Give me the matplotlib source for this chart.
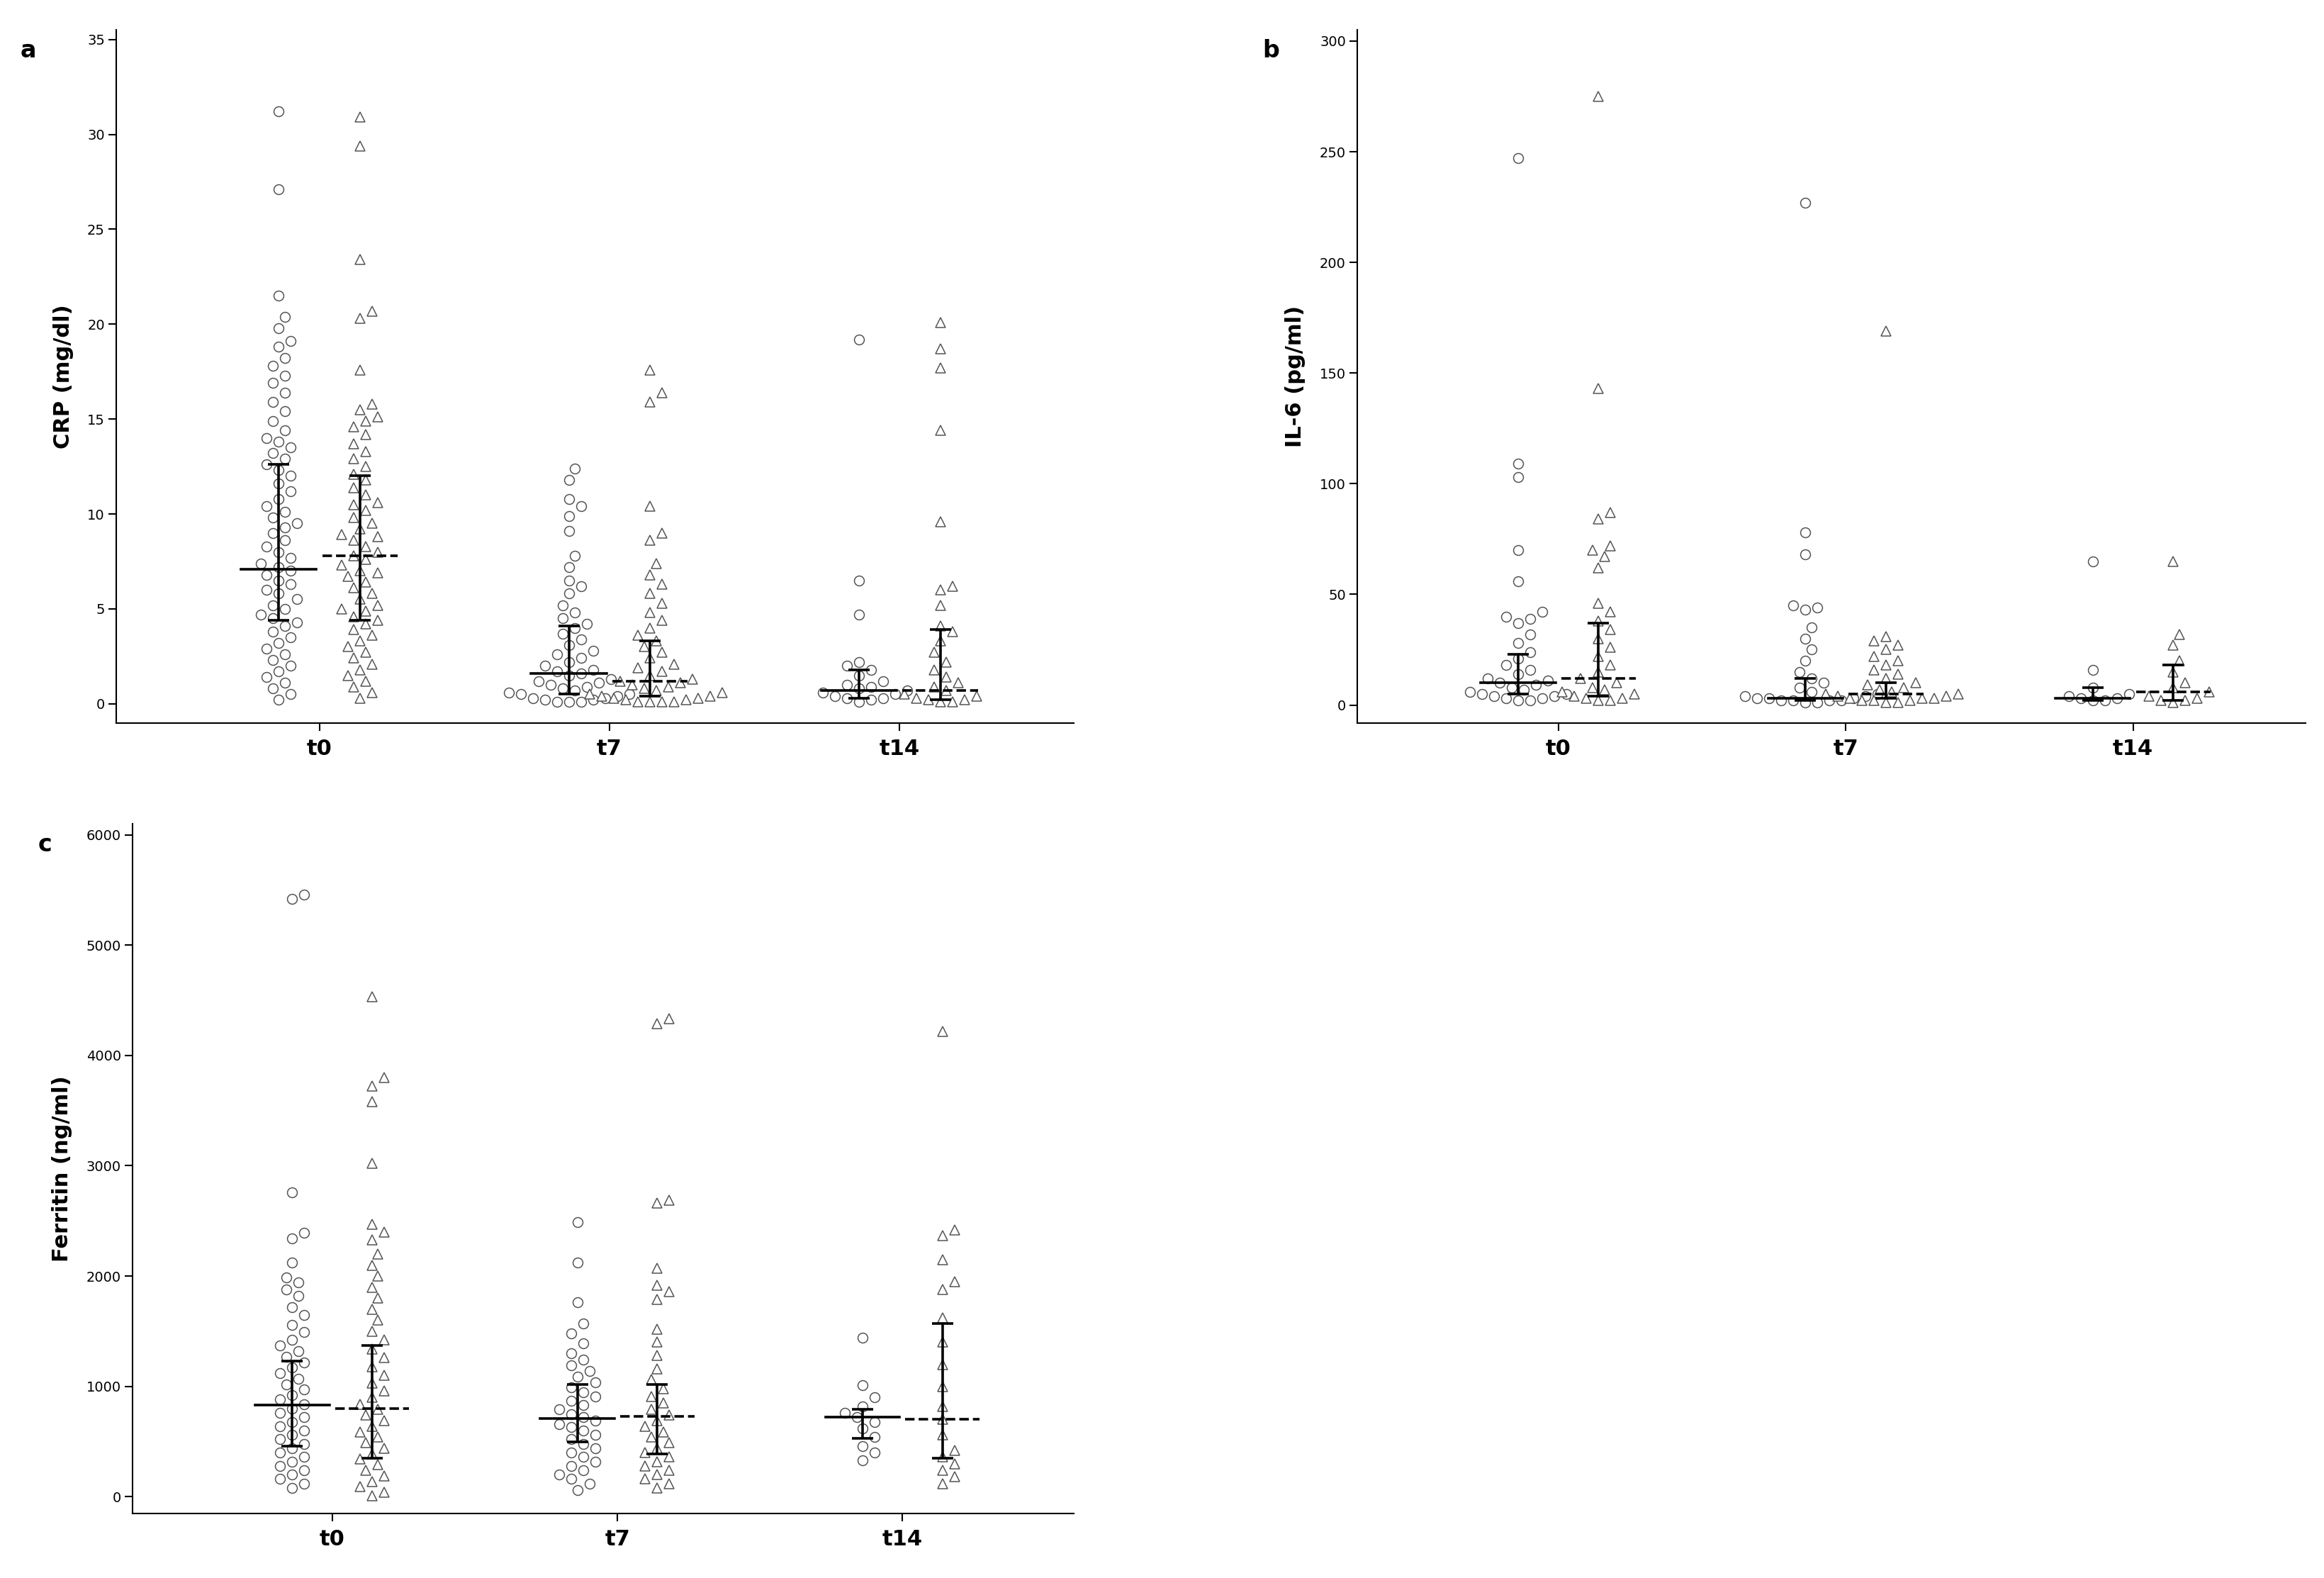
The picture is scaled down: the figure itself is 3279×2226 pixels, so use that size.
import numpy as np
import matplotlib
matplotlib.use('Agg')
import matplotlib.pyplot as plt

groups = ['t0', 't7', 't14']

# CRP (mg/dl)
crp_circ = [
    [31.2, 27.1, 21.5, 20.4, 19.8, 19.1, 18.8, 18.2, 17.8, 17.3, 16.9, 16.4, 15.9, 15.4, 14.9, 14.4, 14.0, 13.8,
     13.5, 13.2, 12.9, 12.6, 12.3, 12.0, 11.6, 11.2, 10.8, 10.4, 10.1, 9.8, 9.5, 9.3, 9.0, 8.6, 8.3, 8.0, 7.7, 7.4,
     7.2, 7.0, 6.8, 6.5, 6.3, 6.0, 5.8, 5.5, 5.2, 5.0, 4.7, 4.5, 4.3, 4.1, 3.8, 3.5, 3.2, 2.9, 2.6, 2.3, 2.0, 1.7,
     1.4, 1.1, 0.8, 0.5, 0.2],
    [12.4, 11.8, 10.8, 10.4, 9.9, 9.1, 7.8, 7.2, 6.5, 6.2, 5.8, 5.2, 4.8, 4.5, 4.2, 4.0, 3.7, 3.4, 3.1, 2.8, 2.6,
     2.4, 2.2, 2.0, 1.8, 1.7, 1.6, 1.5, 1.3, 1.2, 1.1, 1.0, 0.9, 0.8, 0.7, 0.6, 0.5, 0.5, 0.4, 0.3, 0.3, 0.2, 0.2,
     0.1, 0.1, 0.1],
    [19.2, 6.5, 4.7, 2.2, 2.0, 1.8, 1.5, 1.2, 1.0, 0.9, 0.8, 0.7, 0.6, 0.5, 0.4, 0.3, 0.3, 0.2, 0.1],
]
crp_tri = [
    [30.9, 29.4, 23.4, 20.7, 20.3, 17.6, 15.8, 15.5, 15.1, 14.6, 14.2, 13.7, 13.3, 12.9, 12.5, 12.1, 11.8, 11.4,
     11.0, 10.6, 10.2, 9.8, 9.5, 9.2, 8.9, 8.6, 8.3, 8.0, 7.8, 7.6, 7.3, 7.0, 6.7, 6.4, 6.1, 5.8, 5.5, 5.2, 4.9,
     4.6, 4.4, 4.2, 3.9, 3.6, 3.3, 3.0, 2.7, 2.4, 2.1, 1.8, 1.5, 1.2, 0.9, 0.6, 0.3, 14.9, 10.5, 8.8, 6.9, 5.0],
    [17.6, 16.4, 15.9, 10.4, 9.0, 8.6, 7.4, 6.8, 6.3, 5.8, 5.3, 4.8, 4.4, 4.0, 3.6, 3.3, 3.0, 2.7, 2.4, 2.1, 1.9,
     1.7, 1.5, 1.3, 1.2, 1.1, 1.0, 0.9, 0.8, 0.7, 0.6, 0.5, 0.4, 0.4, 0.3, 0.3, 0.2, 0.2, 0.1, 0.1, 0.1, 0.1],
    [20.1, 18.7, 17.7, 14.4, 9.6, 6.2, 6.0, 5.2, 4.1, 3.8, 3.3, 2.7, 2.2, 1.8, 1.4, 1.1, 0.9, 0.7, 0.5, 0.4, 0.3,
     0.2, 0.2, 0.1, 0.1],
]
crp_stats_c = [(7.1, 4.4, 12.6), (1.6, 0.5, 4.1), (0.7, 0.3, 1.8)]
crp_stats_t = [(7.8, 4.4, 12.0), (1.2, 0.4, 3.3), (0.7, 0.2, 3.9)]

# IL-6 (pg/ml)
il6_circ = [
    [247, 109, 103, 70, 56, 42, 40, 39, 37, 32, 28, 24, 21, 18, 16, 14, 12, 11, 10, 9, 8, 7, 6, 5, 5, 4, 4, 3, 3, 2, 2],
    [227, 78, 68, 45, 44, 43, 35, 30, 25, 20, 15, 12, 10, 8, 6, 5, 4, 4, 3, 3, 3, 2, 2, 2, 2, 1, 1],
    [65, 16, 8, 5, 4, 3, 3, 2, 2],
]
il6_tri = [
    [275, 143, 87, 84, 72, 70, 67, 62, 46, 42, 38, 34, 30, 26, 22, 18, 15, 12, 10, 8, 7, 6, 5, 4, 3, 3, 2, 2],
    [169, 31, 29, 27, 25, 22, 20, 18, 16, 14, 12, 10, 9, 8, 7, 6, 5, 5, 4, 4, 3, 3, 3, 2, 2, 2, 1, 1],
    [65, 32, 27, 20, 15, 10, 8, 6, 4, 3, 2, 2, 1],
]
il6_stats_c = [(10, 5, 23), (3, 2, 12), (3, 2, 8)]
il6_stats_t = [(12, 4, 37), (5, 3, 10), (6, 2, 18)]

# Ferritin (ng/ml)
fer_circ = [
    [5420, 5460, 2760, 2390, 2340, 2120, 1990, 1940, 1880, 1820, 1720, 1650, 1560, 1490, 1420, 1370, 1320, 1270,
     1220, 1170, 1120, 1070, 1020, 970, 920, 880, 840, 800, 760, 720, 680, 640, 600, 560, 520, 480, 440, 400, 360,
     320, 280, 240, 200, 160, 120, 80],
    [2490, 2120, 1760, 1570, 1480, 1390, 1300, 1240, 1190, 1140, 1090, 1040, 990, 950, 910, 870, 830, 790, 750,
     720, 690, 660, 630, 600, 560, 520, 480, 440, 400, 360, 320, 280, 240, 200, 160, 120, 60],
    [1440, 1010, 900, 820, 760, 720, 680, 620, 540, 460, 400, 330],
]
fer_tri = [
    [4530, 3800, 3720, 3580, 3020, 2470, 2400, 2330, 2200, 2100, 2000, 1900, 1800, 1700, 1600, 1500, 1420, 1340,
     1260, 1180, 1100, 1030, 960, 900, 840, 790, 740, 690, 640, 590, 540, 490, 440, 390, 340, 290, 240, 190, 140,
     90, 40, 10],
    [4330, 4290, 2690, 2660, 2070, 1920, 1860, 1790, 1520, 1400, 1280, 1160, 1060, 980, 910, 850, 790, 740, 690,
     640, 590, 540, 490, 440, 400, 360, 320, 280, 240, 200, 160, 120, 80],
    [4220, 2420, 2370, 2150, 1950, 1880, 1620, 1400, 1200, 1000, 820, 700, 560, 420, 360, 300, 240, 180, 120],
]
fer_stats_c = [(830, 460, 1230), (710, 500, 1020), (720, 530, 790)]
fer_stats_t = [(800, 350, 1370), (730, 390, 1020), (700, 350, 1570)]

W, H = 3279, 2226
fig = plt.figure(figsize=(W / 100, H / 100), dpi=100)


def swarm(vals, yr, wpx, hpx, xr, d=17.0):
    """Place points left/right of center so markers do not overlap (pixel space)."""
    ys = np.array(sorted(vals))
    ypx = ys / yr * hpx
    placed = []
    offs = []
    for y in ypx:
        k = 0
        while True:
            cands = [0.0] if k == 0 else [k * d * 0.5, -k * d * 0.5]
            ok = None
            for c in cands:
                if all((c - px) ** 2 + (y - py) ** 2 >= d * d for px, py in placed):
                    ok = c
                    break
            if ok is not None:
                placed.append((ok, y))
                offs.append(ok)
                break
            k += 1
    return np.array(offs) / wpx * xr, ys


def panel(rect, circ, tri, sc, st, ylim, yticks, ylabel, letter):
    ax = fig.add_axes(rect)
    xlim = (0.3, 3.6)
    wpx = rect[2] * W
    hpx = rect[3] * H
    yr = ylim[1] - ylim[0]
    for i in range(3):
        for vals, off, mk, stats, ls in ((circ[i], -0.14, 'o', sc[i], '-'), (tri[i], 0.14, '^', st[i], '--')):
            cx = i + 1 + off
            dx, ys = swarm(vals, yr, wpx, hpx, xlim[1] - xlim[0])
            ax.plot(cx + dx, ys, mk, ms=10, mfc='white', mec='#555555', mew=1.1, ls='none', zorder=2)
            med, q1, q3 = stats
            ax.plot([cx - 0.13, cx + 0.13], [med, med], color='black', lw=2.6, ls=ls, zorder=3)
            ax.errorbar([cx], [med], yerr=[[med - q1], [q3 - med]], fmt='none', ecolor='black',
                        elinewidth=2.6, capsize=11, capthick=2.6, zorder=3)
    ax.set_xlim(*xlim)
    ax.set_ylim(*ylim)
    ax.set_xticks([1, 2, 3])
    ax.set_xticklabels(groups, fontsize=22, fontweight='bold')
    ax.set_yticks(yticks)
    ax.tick_params(axis='y', labelsize=14, length=8, width=1.5)
    ax.tick_params(axis='x', length=8, width=1.5, pad=8)
    for s in ('top', 'right'):
        ax.spines[s].set_visible(False)
    for s in ('left', 'bottom'):
        ax.spines[s].set_linewidth(1.5)
    ax.set_ylabel(ylabel, fontsize=22, fontweight='bold', labelpad=14)
    ax.text(-0.1, 0.96, letter, transform=ax.transAxes, fontsize=24, fontweight='bold')
    return ax


panel([0.050, 0.542, 0.412, 0.439], crp_circ, crp_tri, crp_stats_c, crp_stats_t,
      (-1, 35.5), list(range(0, 36, 5)), 'CRP (mg/dl)', 'a')
panel([0.584, 0.542, 0.408, 0.439], il6_circ, il6_tri, il6_stats_c, il6_stats_t,
      (-8, 305), list(range(0, 301, 50)), 'IL-6 (pg/ml)', 'b')
panel([0.057, 0.041, 0.405, 0.437], fer_circ, fer_tri, fer_stats_c, fer_stats_t,
      (-150, 6100), list(range(0, 6001, 1000)), 'Ferritin (ng/ml)', 'c')

fig.savefig('out.png', dpi=100)
